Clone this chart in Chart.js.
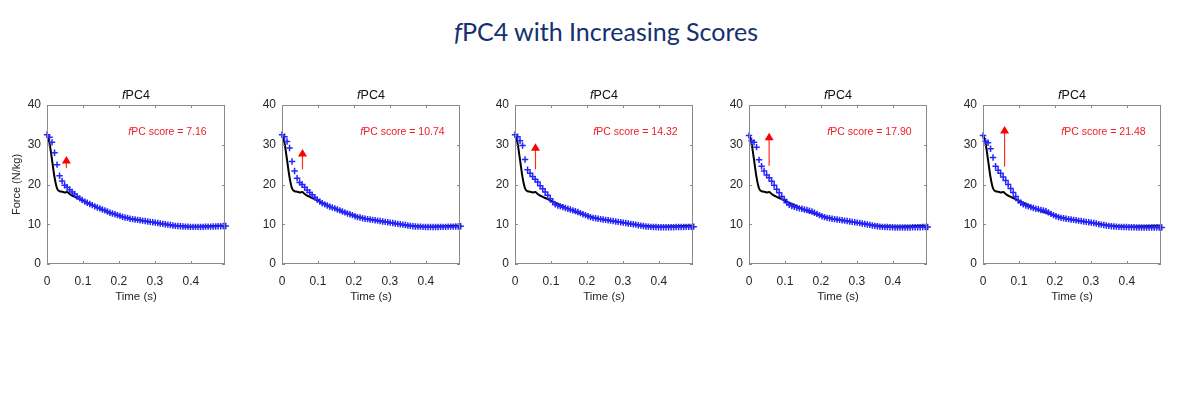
<!DOCTYPE html>
<html>
<head>
<meta charset="utf-8">
<script src="https://cdn.jsdelivr.net/npm/chart.js@4.4.1/dist/chart.umd.min.js"></script>
<style>
html,body{margin:0;padding:0;background:#fff;width:1200px;height:410px;overflow:hidden;}
#title{position:absolute;left:0;width:1212px;top:15px;text-align:center;font-family:Lato,'Open Sans',sans-serif;font-size:25px;color:#14306f;line-height:32px;}
.panel{position:absolute;top:80px;width:232px;height:224px;}
</style>
</head>
<body>
<div id="title"><i>f</i>PC4 with Increasing Scores</div>
<div class="panel" style="left:7px"><canvas id="c0" width="232" height="224"></canvas></div>
<div class="panel" style="left:242px"><canvas id="c1" width="232" height="224"></canvas></div>
<div class="panel" style="left:475px"><canvas id="c2" width="232" height="224"></canvas></div>
<div class="panel" style="left:709px"><canvas id="c3" width="232" height="224"></canvas></div>
<div class="panel" style="left:943px"><canvas id="c4" width="232" height="224"></canvas></div>
<script>
// ---- data ----
const panelTitle = 'PC4';
const scoreLabels = ['7.16', '10.74', '14.32', '17.90', '21.48'];
const xTicks = [0, 0.1, 0.2, 0.3, 0.4];
const yTicks = [0, 10, 20, 30, 40];

const timeS = [0, 0.007, 0.014, 0.021, 0.028, 0.035, 0.042, 0.049, 0.056, 0.063,
  0.070, 0.077, 0.084, 0.091, 0.098, 0.105, 0.112, 0.119, 0.126, 0.133,
  0.140, 0.147, 0.154, 0.161, 0.168, 0.175, 0.182, 0.189, 0.196, 0.203,
  0.210, 0.217, 0.224, 0.231, 0.238, 0.245, 0.252, 0.259, 0.266, 0.273,
  0.280, 0.287, 0.294, 0.301, 0.308, 0.315, 0.322, 0.329, 0.336, 0.343,
  0.350, 0.357, 0.364, 0.371, 0.378, 0.385, 0.392, 0.399, 0.406, 0.413,
  0.420, 0.427, 0.434, 0.441, 0.448, 0.455, 0.462, 0.469, 0.476, 0.483,
  0.490, 0.497];

const meanForce = [32.6, 30.4, 26.2, 21.8, 19.0, 18.3, 18.2, 18.0, 18.1, 17.6,
  17.2, 16.9, 16.6, 16.3, 16.0, 15.7, 15.4, 15.1, 14.8, 14.5,
  14.2, 13.9, 13.6, 13.4, 13.1, 12.9, 12.7, 12.5, 12.3, 12.1,
  11.9, 11.7, 11.6, 11.4, 11.3, 11.2, 11.1, 11.0, 10.9, 10.8,
  10.7, 10.6, 10.5, 10.4, 10.3, 10.2, 10.1, 10.0, 9.9, 9.8,
  9.7, 9.65, 9.6, 9.55, 9.5, 9.5, 9.45, 9.45, 9.45, 9.45,
  9.45, 9.45, 9.5, 9.5, 9.5, 9.55, 9.55, 9.6, 9.6, 9.65,
  9.7, 9.7];

const force716 = [32.5, 31.9, 30.6, 28.0, 25.0, 22.2, 20.9, 19.8, 19.3, 18.7,
  18.1, 17.6, 17.0, 16.5, 16.1, 15.7, 15.4, 15.1, 14.8, 14.5,
  14.2, 14.0, 13.7, 13.5, 13.2, 12.9, 12.7, 12.5, 12.3, 12.1,
  11.9, 11.7, 11.6, 11.4, 11.3, 11.2, 11.1, 11.0, 10.9, 10.8,
  10.7, 10.6, 10.5, 10.4, 10.3, 10.2, 10.1, 10.0, 9.9, 9.8,
  9.7, 9.6, 9.55, 9.5, 9.45, 9.4, 9.4, 9.35, 9.35, 9.35,
  9.35, 9.35, 9.35, 9.4, 9.4, 9.4, 9.45, 9.45, 9.5, 9.5,
  9.55, 9.55];

const force1074 = [32.5, 32.0, 30.8, 29.2, 25.8, 23.4, 21.6, 20.5, 20.0, 19.3,
  18.6, 18.0, 17.4, 16.8, 16.2, 15.7, 15.3, 15.0, 14.7, 14.4,
  14.2, 14.0, 13.7, 13.5, 13.2, 13.0, 12.7, 12.5, 12.3, 12.0,
  11.8, 11.7, 11.5, 11.4, 11.3, 11.2, 11.1, 11.0, 10.9, 10.8,
  10.7, 10.6, 10.5, 10.4, 10.3, 10.2, 10.1, 10.0, 9.9, 9.8,
  9.7, 9.6, 9.5, 9.45, 9.4, 9.4, 9.35, 9.3, 9.3, 9.3,
  9.3, 9.3, 9.3, 9.35, 9.35, 9.35, 9.4, 9.4, 9.4, 9.45,
  9.45, 9.5];

const force1432 = [32.5, 32.0, 31.0, 29.8, 26.3, 23.7, 22.8, 22.0, 21.3, 20.6,
  19.7, 18.9, 18.1, 17.3, 16.4, 15.6, 15.0, 14.7, 14.5, 14.3,
  14.1, 13.9, 13.7, 13.5, 13.3, 13.1, 12.8, 12.5, 12.3, 12.0,
  11.8, 11.6, 11.5, 11.4, 11.3, 11.2, 11.1, 11.0, 10.9, 10.8,
  10.7, 10.6, 10.5, 10.4, 10.3, 10.2, 10.1, 10.0, 9.9, 9.75,
  9.65, 9.55, 9.45, 9.4, 9.35, 9.3, 9.3, 9.25, 9.25, 9.25,
  9.25, 9.25, 9.25, 9.25, 9.3, 9.3, 9.3, 9.3, 9.35, 9.35,
  9.35, 9.4];

const force1790 = [32.3, 31.0, 30.6, 29.4, 26.2, 24.6, 23.4, 22.4, 21.7, 20.8,
  19.8, 18.8, 17.9, 17.0, 16.2, 15.4, 14.9, 14.6, 14.4, 14.2,
  14.0, 13.9, 13.7, 13.6, 13.4, 13.2, 12.9, 12.6, 12.3, 12.0,
  11.8, 11.6, 11.5, 11.4, 11.3, 11.2, 11.1, 11.0, 10.9, 10.8,
  10.7, 10.6, 10.5, 10.4, 10.3, 10.2, 10.05, 9.95, 9.85, 9.7,
  9.6, 9.5, 9.4, 9.35, 9.3, 9.3, 9.25, 9.25, 9.2, 9.2,
  9.2, 9.2, 9.2, 9.2, 9.2, 9.25, 9.25, 9.25, 9.25, 9.3,
  9.3, 9.3];

const force2148 = [32.3, 30.9, 30.5, 29.0, 26.8, 24.6, 23.6, 22.8, 21.9, 21.0,
  20.0, 19.0, 18.0, 17.0, 16.0, 15.4, 15.0, 14.7, 14.5, 14.3,
  14.1, 13.9, 13.8, 13.6, 13.5, 13.3, 13.0, 12.6, 12.3, 12.0,
  11.8, 11.6, 11.5, 11.4, 11.3, 11.2, 11.1, 11.0, 10.9, 10.8,
  10.7, 10.6, 10.5, 10.4, 10.3, 10.2, 10.0, 9.9, 9.8, 9.7,
  9.6, 9.5, 9.45, 9.4, 9.35, 9.3, 9.3, 9.3, 9.25, 9.25,
  9.25, 9.2, 9.2, 9.2, 9.2, 9.2, 9.2, 9.2, 9.2, 9.2,
  9.2, 9.2];

const panelForces = [force716, force1074, force1432, force1790, force2148];

// arrows: x position (s), tail force, tip force
const arrowX = [0.054, 0.057, 0.057, 0.056, 0.060];
const arrowFrom = [24.1, 23.8, 23.8, 24.7, 24.5];
const arrowTo = [27.2, 28.9, 30.4, 33.0, 34.7];

// annotation anchor (data coords)
const labelX = 0.335;
const labelY = 33.3;

// ---- drawing ----
const FONT = '"Liberation Sans", Arial, Helvetica, sans-serif';
const BOX = '#8a8a8a';

const panelDeco = {
  id: 'panelDeco',
  afterDatasetsDraw(chart, args, opts) {
    const i = opts.index;
    const ctx = chart.ctx;
    const xs = chart.scales.x, ys = chart.scales.y;
    const ax = xs.getPixelForValue(arrowX[i]);
    const y0 = ys.getPixelForValue(arrowFrom[i]);
    const y1 = ys.getPixelForValue(arrowTo[i]);
    ctx.save();
    ctx.strokeStyle = '#ff2a2a';
    ctx.fillStyle = '#ff0000';
    ctx.lineWidth = 1.2;
    ctx.beginPath();
    ctx.moveTo(ax, y0);
    ctx.lineTo(ax, y1 + 6);
    ctx.stroke();
    ctx.beginPath();
    ctx.moveTo(ax, y1);
    ctx.lineTo(ax - 4.5, y1 + 7.5);
    ctx.lineTo(ax + 4.5, y1 + 7.5);
    ctx.closePath();
    ctx.fill();
    ctx.restore();
  },
  afterDraw(chart, args, opts) {
    const i = opts.index;
    const ctx = chart.ctx;
    const a = chart.chartArea;
    const xs = chart.scales.x, ys = chart.scales.y;
    ctx.save();
    ctx.strokeStyle = BOX;
    ctx.lineWidth = 1;
    ctx.strokeRect(Math.round(a.left) + 0.5, Math.round(a.top) + 0.5,
      Math.round(a.right - a.left) - 1, Math.round(a.bottom - a.top) - 1);
    ctx.beginPath();
    xs.ticks.forEach(t => {
      const px = Math.round(xs.getPixelForValue(t.value)) + 0.5;
      ctx.moveTo(px, a.bottom); ctx.lineTo(px, a.bottom - 3);
      ctx.moveTo(px, a.top); ctx.lineTo(px, a.top + 3);
    });
    ys.ticks.forEach(t => {
      const py = Math.round(ys.getPixelForValue(t.value)) + 0.5;
      ctx.moveTo(a.left, py); ctx.lineTo(a.left + 3, py);
      ctx.moveTo(a.right, py); ctx.lineTo(a.right - 3, py);
    });
    ctx.stroke();
    const cx = (a.left + a.right) / 2;
    const ty = a.top - 9;
    ctx.fillStyle = '#111';
    ctx.textBaseline = 'middle';
    const fI = 'italic 12.5px ' + FONT;
    const fN = '12.5px ' + FONT;
    ctx.font = fI; const w1 = ctx.measureText('f').width;
    ctx.font = fN; const w2 = ctx.measureText(panelTitle).width;
    let sx = cx - (w1 + w2) / 2;
    ctx.textAlign = 'left';
    ctx.font = fI; ctx.fillText('f', sx, ty);
    ctx.font = fN; ctx.fillText(panelTitle, sx + w1, ty);
    const lx = xs.getPixelForValue(labelX);
    const ly = ys.getPixelForValue(labelY);
    const s1 = 'f', s2 = 'PC score = ' + scoreLabels[i];
    const gI = 'italic 10.5px ' + FONT, gN = '10.5px ' + FONT;
    ctx.font = gI; const v1 = ctx.measureText(s1).width;
    ctx.font = gN; const v2 = ctx.measureText(s2).width;
    sx = lx - (v1 + v2) / 2;
    ctx.fillStyle = '#ee1c24';
    ctx.font = gI; ctx.fillText(s1, sx, ly);
    ctx.font = gN; ctx.fillText(s2, sx + v1, ly);
    ctx.restore();
  }
};

function makePanel(i) {
  const blue = panelForces[i];
  const meanPts = timeS.map((t, k) => ({x: t, y: meanForce[k]}));
  const bluePts = timeS.map((t, k) => ({x: t, y: blue[k]}));
  new Chart(document.getElementById('c' + i), {
    type: 'scatter',
    data: {
      datasets: [
        {
          label: 'mean',
          data: meanPts,
          showLine: true,
          borderColor: '#000',
          borderWidth: 2,
          pointRadius: 0,
          cubicInterpolationMode: 'monotone',
          order: 2
        },
        {
          label: 'score ' + scoreLabels[i],
          data: bluePts,
          showLine: false,
          pointStyle: 'cross',
          pointRadius: 3.2,
          pointBorderWidth: 1.5,
          pointBorderColor: '#2424ff',
          pointBackgroundColor: '#2424ff',
          borderColor: '#2424ff',
          clip: 6,
          order: 1
        }
      ]
    },
    options: {
      responsive: false,
      animation: false,
      events: [],
      layout: {padding: {top: 25, left: 0, right: 14, bottom: 0}},
      plugins: {
        legend: {display: false},
        tooltip: {enabled: false},
        panelDeco: {index: i}
      },
      scales: {
        x: {
          type: 'linear',
          min: 0, max: 0.495,
          afterFit(s) { s.height = 40; },
          afterBuildTicks(s) { s.ticks = xTicks.map(v => ({value: v})); },
          grid: {display: false, drawTicks: false},
          border: {display: false},
          ticks: {
            padding: 10,
            color: '#262626',
            font: {family: FONT, size: 12},
            callback: v => String(v)
          },
          title: {
            display: true, text: 'Time (s)', color: '#262626',
            font: {family: FONT, size: 11.5},
            padding: {top: 0, bottom: 0}
          }
        },
        y: {
          type: 'linear',
          min: 0, max: 40,
          afterFit(s) { s.width = 40; },
          afterBuildTicks(s) { s.ticks = yTicks.map(v => ({value: v})); },
          grid: {display: false, drawTicks: false},
          border: {display: false},
          ticks: {
            padding: 6,
            color: '#262626',
            font: {family: FONT, size: 12}
          },
          title: {
            display: i === 0, text: 'Force (N/kg)', color: '#262626',
            font: {family: FONT, size: 11},
            padding: {top: 3, bottom: 0}
          }
        }
      }
    },
    plugins: [panelDeco]
  });
}

for (let i = 0; i < 5; i++) makePanel(i);
</script>
</body>
</html>
